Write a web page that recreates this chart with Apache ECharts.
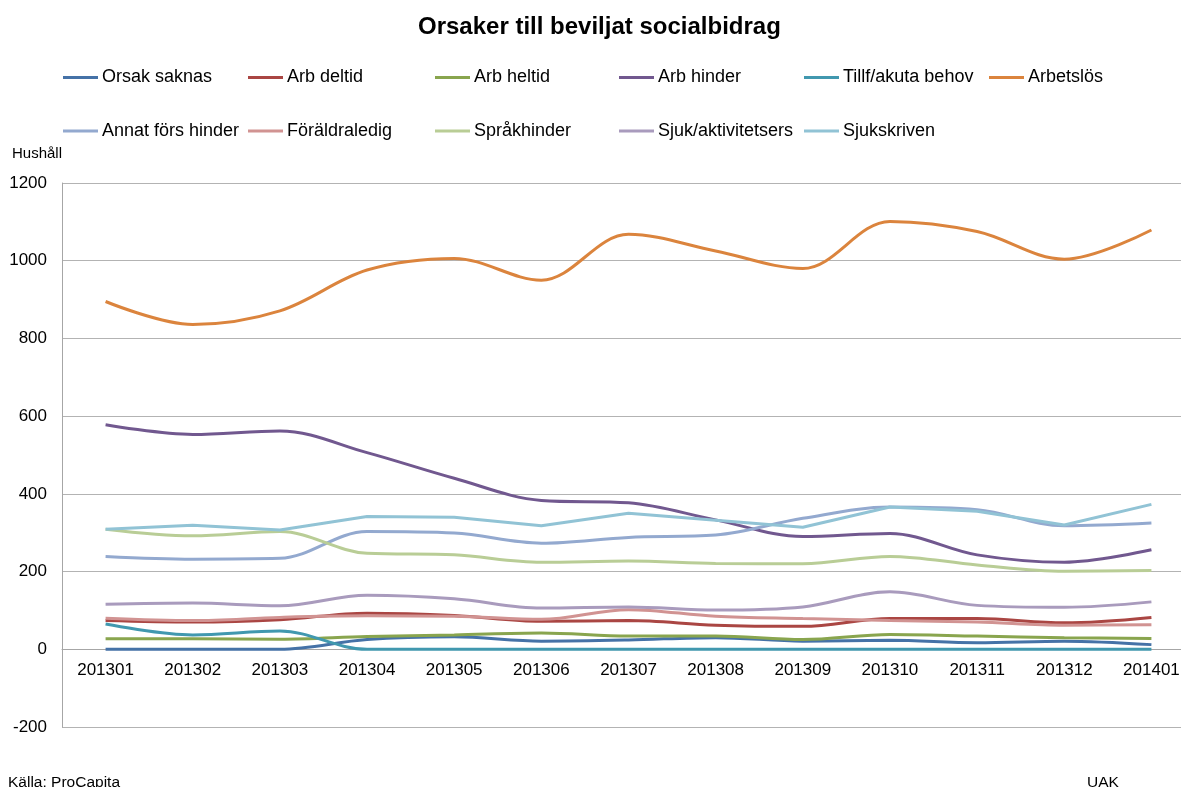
<!DOCTYPE html>
<html lang="sv">
  <head>
    <meta charset="UTF-8" />
    <title>Orsaker till beviljat socialbidrag</title>
    <script src="https://cdn.jsdelivr.net/npm/echarts@6/dist/echarts.min.js"></script>
    <style>
      html, body { margin: 0; padding: 0; background: #fff; }
      #main { width: 1181px; height: 787px; }
    </style>
  </head>
  <body>
    <div id="main"></div>
    <script>
      // månader (x-axel)
      const months = ["201301", "201302", "201303", "201304", "201305", "201306", "201307",
        "201308", "201309", "201310", "201311", "201312", "201401"]

      // antal hushåll per orsak
      const orsakSaknas = [0, 0, 0, 25, 32, 21, 24, 30, 21, 23, 17, 21, 12]
      const arbDeltid = [74, 70, 76, 93, 87, 72, 74, 62, 59, 79, 79, 68, 82]
      const arbHeltid = [27, 27, 26, 33, 37, 42, 34, 34, 25, 38, 34, 30, 28]
      const arbHinder = [578, 553, 562, 506, 440, 383, 377, 333, 290, 298, 243, 224, 256]
      const tillfAkuta = [65, 37, 47, 0, 0, 0, 0, 0, 0, 0, 0, 0, 0]
      const arbetslos = [895, 836, 871, 976, 1006, 950, 1068, 1025, 980, 1101, 1075, 1004, 1079]
      const annatFors = [239, 232, 234, 303, 299, 273, 288, 294, 337, 366, 359, 318, 325]
      const foraldraledig = [80, 74, 82, 86, 85, 77, 102, 85, 79, 74, 70, 62, 63]
      const sprakhinder = [309, 292, 303, 247, 243, 224, 227, 221, 220, 239, 217, 201, 203]
      const sjukAktivitet = [116, 119, 112, 139, 130, 106, 109, 101, 109, 148, 113, 108, 122]
      const sjukskriven = [309, 319, 307, 342, 340, 318, 350, 332, 314, 366, 355, 320, 373]

      const yTicks = { min: -200, max: 1200, interval: 200 }

      const serier = [
        { name: "Orsak saknas", data: orsakSaknas, color: "#4572A7", smooth: true },
        { name: "Arb deltid", data: arbDeltid, color: "#AA4643", smooth: true },
        { name: "Arb heltid", data: arbHeltid, color: "#89A54E", smooth: true },
        { name: "Arb hinder", data: arbHinder, color: "#71588F", smooth: true },
        { name: "Tillf/akuta behov", data: tillfAkuta, color: "#4198AF", smooth: true },
        { name: "Arbetslös", data: arbetslos, color: "#DB843D", smooth: true },
        { name: "Annat förs hinder", data: annatFors, color: "#93A9CF", smooth: true },
        { name: "Föräldraledig", data: foraldraledig, color: "#D19392", smooth: true },
        { name: "Språkhinder", data: sprakhinder, color: "#B9CD96", smooth: true },
        { name: "Sjuk/aktivitetsers", data: sjukAktivitet, color: "#A99BBD", smooth: true },
        { name: "Sjukskriven", data: sjukskriven, color: "#91C3D5", smooth: false },
      ]

      const font = "'Liberation Sans', Arial, sans-serif"
      const kolumner = [63, 248, 435, 619, 804, 989]
      const rader = [68.5, 122]

      // en legend per post så att kolumnerna hamnar som i originalet
      const legender = serier.map((s, i) => ({
        data: [s.name],
        left: kolumner[i % 6],
        top: rader[Math.floor(i / 6)],
        padding: 0,
        icon: "rect",
        itemWidth: 35,
        itemHeight: 3,
        itemGap: 0,
        selectedMode: false,
        textStyle: { fontFamily: font, fontSize: 18, color: "#000", padding: [0, 0, 0, -1], lineHeight: 18 },
      }))

      const chart = echarts.init(document.getElementById("main"))
      chart.setOption({
        animation: false,
        backgroundColor: "#fff",
        title: {
          text: "Orsaker till beviljat socialbidrag",
          left: 418,
          top: 15,
          padding: 0,
          textStyle: { fontFamily: font, fontSize: 24, fontWeight: "bold", color: "#000" },
        },
        legend: legender,
        grid: { left: 62, right: -14, top: 183, bottom: 60, containLabel: false, outerBoundsMode: "none" },
        xAxis: {
          type: "category",
          data: months,
          boundaryGap: true,
          offset: -77.7,
          axisLine: { onZero: false, lineStyle: { color: "#a6a6a6", width: 1 } },
          axisTick: { show: false },
          axisLabel: { fontFamily: font, fontSize: 17, color: "#000", margin: 13, interval: 0 },
        },
        yAxis: {
          type: "value",
          min: yTicks.min,
          max: yTicks.max,
          interval: yTicks.interval,
          name: "Hushåll",
          nameLocation: "end",
          nameGap: 22,
          nameTextStyle: { fontFamily: font, fontSize: 15, color: "#000", align: "right" },
          axisLine: { show: true, lineStyle: { color: "#a6a6a6" } },
          axisTick: { show: false },
          axisLabel: { fontFamily: font, fontSize: 17, color: "#000", margin: 15, formatter: (v) => String(v) },
          splitLine: { lineStyle: { color: "#b3b3b3", width: 1 } },
        },
        graphic: [
          { type: "text", left: 8, top: 775, style: { text: "Källa: ProCapita", font: "15.5px " + font, fill: "#000" } },
          { type: "text", left: 1087, top: 775, style: { text: "UAK", font: "15.5px " + font, fill: "#000" } },
        ],
        series: serier.map((s) => ({
          name: s.name,
          type: "line",
          data: s.data,
          smooth: s.smooth ? 0.35 : false,
          symbol: "none",
          color: s.color,
          lineStyle: { width: 3, color: s.color },
        })),
      })
    </script>
  </body>
</html>
